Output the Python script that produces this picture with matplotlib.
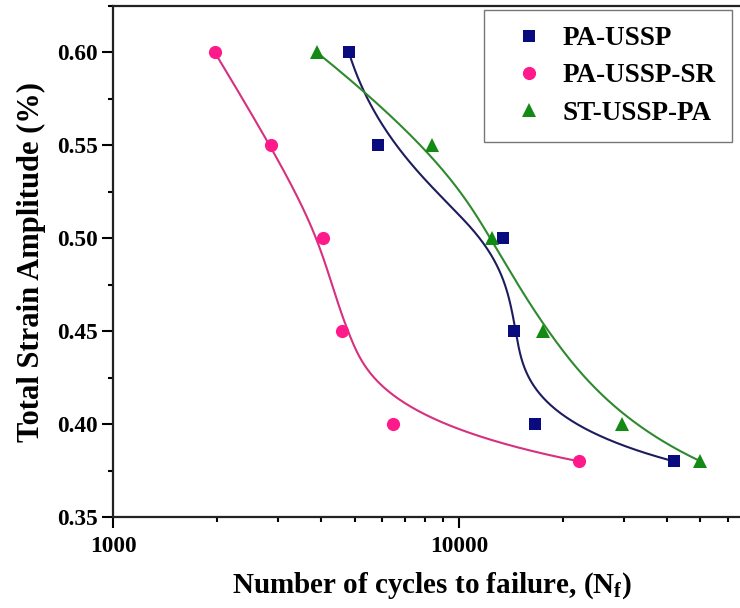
import numpy as np
import matplotlib
matplotlib.use("Agg")
import matplotlib.pyplot as plt
from matplotlib.ticker import LogLocator, FixedLocator, NullFormatter, MultipleLocator

plt.rcParams['font.family'] = ['Liberation Serif', 'DejaVu Serif']
plt.rcParams['font.weight'] = 'bold'
plt.rcParams['mathtext.fontset'] = 'custom'
plt.rcParams['mathtext.rm'] = 'Liberation Serif:bold'
plt.rcParams['mathtext.bf'] = 'Liberation Serif:bold'
plt.rcParams['mathtext.it'] = 'Liberation Serif:bold'

strain = [0.60, 0.55, 0.50, 0.45, 0.40, 0.38]
cycles_pa = [4810, 5830, 13400, 14400, 16600, 41800]
cycles_sr = [1970, 2860, 4040, 4580, 6440, 22200]
cycles_st = [3890, 8360, 12500, 17500, 29600, 50000]
labels = ["PA-USSP", "PA-USSP-SR", "ST-USSP-PA"]


def bspline(px, py, k=3, num=300):
    px = np.asarray(px, float)
    py = np.asarray(py, float)
    n = len(px)
    inner = np.linspace(0, 1, n - k + 1)
    t = np.concatenate([[0] * k, inner, [1] * k])
    u = np.linspace(0, 1, num)
    u[-1] = 1 - 1e-12

    def N(i, p, x):
        if p == 0:
            return ((t[i] <= x) & (x < t[i + 1])).astype(float)
        a = np.zeros_like(x)
        b = np.zeros_like(x)
        if t[i + p] != t[i]:
            a = (x - t[i]) / (t[i + p] - t[i]) * N(i, p - 1, x)
        if t[i + p + 1] != t[i + 1]:
            b = (t[i + p + 1] - x) / (t[i + p + 1] - t[i + 1]) * N(i + 1, p - 1, x)
        return a + b

    B = np.array([N(i, k, u) for i in range(n)])
    return B.T @ px, B.T @ py


fig = plt.figure(figsize=(7.4, 6.08), dpi=100)
ax = fig.add_axes([113 / 740, 91 / 608, 638 / 740, 511 / 608])

series = [
    (cycles_pa, 's', '#0b0b80', '#1c1c5e', 8),
    (cycles_sr, 'o', '#ff1a8c', '#d6307f', 9.5),
    (cycles_st, '^', '#138a13', '#2f8a2f', 9.5),
]
handles = []
for (cyc, mk, mc, lc, ms), lab in zip(series, labels):
    lx, ly = bspline(np.log10(cyc), strain)
    ax.plot(10 ** lx, ly, color=lc, lw=1.5, zorder=2)
    h, = ax.plot(cyc, strain, linestyle='none', marker=mk, color=mc,
                 markersize=ms, markeredgewidth=0, zorder=3, label=lab)
    handles.append(h)

ax.set_xscale('log')
ax.set_xlim(1000, 70000)
ax.set_ylim(0.35, 0.625)
ax.xaxis.set_major_locator(FixedLocator([1000, 10000]))
ax.xaxis.set_major_formatter(matplotlib.ticker.FuncFormatter(lambda v, p: f"{int(v)}"))
ax.xaxis.set_minor_locator(LogLocator(base=10, subs=np.arange(2, 10)))
ax.xaxis.set_minor_formatter(NullFormatter())
ax.set_yticks([0.35, 0.40, 0.45, 0.50, 0.55, 0.60])
ax.yaxis.set_minor_locator(MultipleLocator(0.025))
ax.yaxis.set_major_formatter(matplotlib.ticker.FormatStrFormatter('%.2f'))

ax.tick_params(which='major', direction='out', length=8, width=1.5, labelsize=16.8)
ax.tick_params(which='minor', direction='out', length=3.6, width=1.5)
ax.tick_params(axis='x', which='major', pad=6)
ax.tick_params(axis='y', which='major', pad=3)
for s in ax.spines.values():
    s.set_linewidth(1.6)
    s.set_color('#222222')

ax.set_xlabel("Number of cycles to failure, (N$_{\\mathrm{f}}$)", fontsize=21, fontweight='bold', labelpad=9)
ax.set_ylabel("Total Strain Amplitude (%)", fontsize=22, fontweight='bold', labelpad=8)

leg = ax.legend(handles=handles, loc='upper right', bbox_to_anchor=(732 / 740, 1 - 10 / 608),
                bbox_transform=fig.transFigure, borderaxespad=0, fontsize=19.5,
                frameon=True, fancybox=False, handlelength=2.07, handletextpad=0.22,
                labelspacing=0.45, borderpad=0.6, numpoints=1)
leg.get_frame().set_edgecolor('#555555')
leg.get_frame().set_linewidth(1.0)

fig.savefig("out.png", dpi=100)
